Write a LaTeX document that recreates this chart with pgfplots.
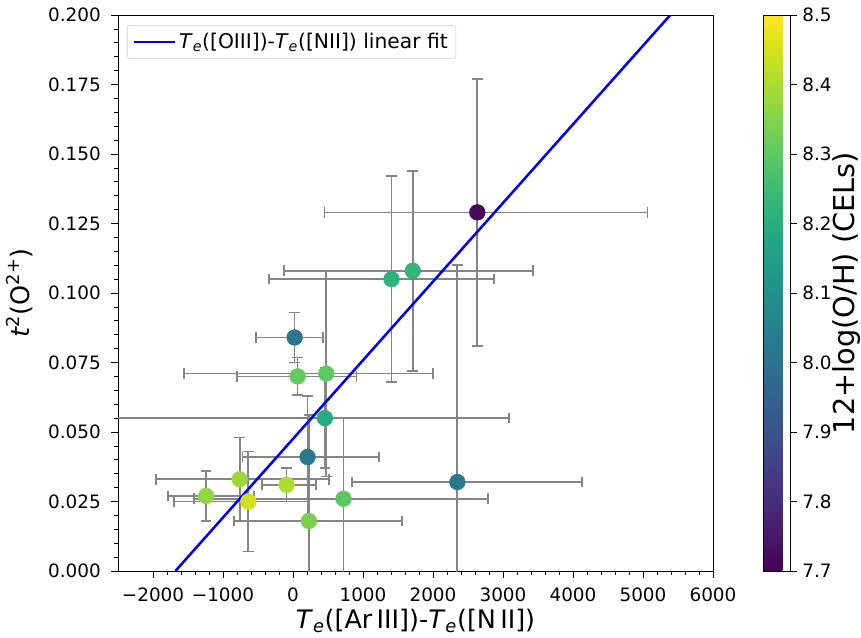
\documentclass[border=0pt]{standalone}
\usepackage{fontspec}
\setmainfont{DejaVu Sans}
\setsansfont{DejaVu Sans}
\usepackage{pgfplots}
\usepackage{pgfplotstable}
\pgfplotsset{compat=1.18}

\pgfplotstableread{
x     y      oh    exm   exp   eym    eyp
1407  0.105  8.22  1746  1469  0.037  0.037
1711  0.108  8.23  1841  1717  0.036  0.036
2633  0.129  7.72  2182  2430  0.048  0.048
23    0.084  8.01  556   404   0.009  0.009
66    0.070  8.31  861   841   0.0068 0.0068
475   0.071  8.30  2031  1526  0.037  0.037
455   0.055  8.19  3100  2635  0.018  0.018
208   0.041  8.02  931   1023  0.022  0.022
227   0.018  8.34  1070  1332  0.038  0.038
722   0.026  8.30  2135  2064  0.029  0.029
-1242 0.027  8.37  542   685   0.009  0.009
-761  0.033  8.38  1199  1273  0.015  0.015
-638  0.025  8.44  1061  865   0.018  0.018
-91   0.031  8.40  347   423   0.006  0.006
2348  0.032  8.02  1502  1783  0.078  0.078
}\datatable

\newcommand{\Te}{\textit{T}\textsubscript{\textit{e}}}

\begin{document}
\begin{tikzpicture}
\path[use as bounding box] (0,0) rectangle (645.75pt,477.75pt);
\begin{axis}[
  at={(88.5pt,49.5pt)}, anchor=south west,
  width=446.25pt, height=417pt, scale only axis,
  xmin=-2500, xmax=6000, ymin=0, ymax=0.2,
  xtick={-2000,-1000,0,1000,2000,3000,4000,5000,6000},
  xticklabels={−2000,−1000,0,1000,2000,3000,4000,5000,6000},
  ytick={0,0.025,0.05,0.075,0.1,0.125,0.15,0.175,0.2},
  yticklabels={0.000,0.025,0.050,0.075,0.100,0.125,0.150,0.175,0.200},
  minor x tick num=4, minor y tick num=4,
  xtick pos=bottom, ytick pos=left,
  tick align=outside,
  major tick length=5.25pt, minor tick length=3pt,
  every tick/.style={black, line width=0.6pt},
  axis line style={line width=0.6pt},
  ticklabel style={font=\fontsize{13.8}{16}\selectfont},
  xticklabel style={anchor=north, inner sep=0pt, yshift=-7.5pt},
  yticklabel style={anchor=east, inner sep=0pt, xshift=-7.5pt},
  xlabel={\Te([Ar\,III])-\Te([N\,II])},
  ylabel={\textit{t}\textsuperscript{2}(O\textsuperscript{2+})},
  every axis x label/.style={at={(rel axis cs:0.5,0)}, yshift=-42.75pt, anchor=base,
    font=\fontsize{19.1}{22}\selectfont},
  every axis y label/.style={at={(rel axis cs:0,0.5)}, xshift=-74pt, rotate=90, anchor=center,
    font=\fontsize{19.1}{22}\selectfont},
  colormap/viridis,
  point meta min=7.7, point meta max=8.5,
  colorbar,
  colorbar style={
    at={(parent axis.north east)}, anchor=north west, xshift=29.25pt,
    width=20.25pt, height=417pt, scale only axis,
    ytick={7.7,7.8,7.9,8.0,8.1,8.2,8.3,8.4,8.5},
    yticklabels={7.7,7.8,7.9,8.0,8.1,8.2,8.3,8.4,8.5},
    ytick pos=right, yticklabel pos=right,
    tick align=outside, major tick length=5.25pt,
    every tick/.style={black, line width=0.6pt},
    axis line style={line width=0.6pt},
    yticklabel style={font=\fontsize{13.8}{16}\selectfont, anchor=west, inner sep=0pt, xshift=3.5pt},
    ylabel={12+log(O/H) (CELs)},
    every axis y label/.style={at={(rel axis cs:1,0.5)}, xshift=42.5pt, rotate=90, anchor=center,
      font=\fontsize{21.6}{26}\selectfont},
  },
  legend style={at={(0.0151,0.982)}, anchor=north west, draw=black!20, rounded corners=2pt,
    fill=white, fill opacity=0.8, text opacity=1, font=\fontsize{15.2}{18}\selectfont,
    inner xsep=4pt, inner ysep=4pt},
  legend cell align=left,
  legend image code/.code={\draw[#1] (0pt,0pt) -- (31pt,0pt);},
]
\addplot[only marks, mark=none, forget plot,
  error bars/.cd, x dir=both, x explicit, y dir=both, y explicit,
  error bar style={color=black!48, line width=1.3pt},
  error mark options={rotate=90, color=black!48, mark size=4pt, line width=1.3pt}]
  table[x=x, y=y, x error plus=exp, x error minus=exm, y error plus=eyp, y error minus=eym]{\datatable};
\addplot[scatter, only marks, mark=*, mark size=5.9pt, point meta=explicit, forget plot,
  scatter/use mapped color={draw=mapped color, fill=mapped color}]
  table[x=x, y=y, meta=oh]{\datatable};
\addplot[color=blue, line width=1.9pt] coordinates {(-1680,0) (5390,0.2)};
\addlegendentry{\Te([OIII])-\Te([NII]) linear fit}
\end{axis}
\end{tikzpicture}
\end{document}
